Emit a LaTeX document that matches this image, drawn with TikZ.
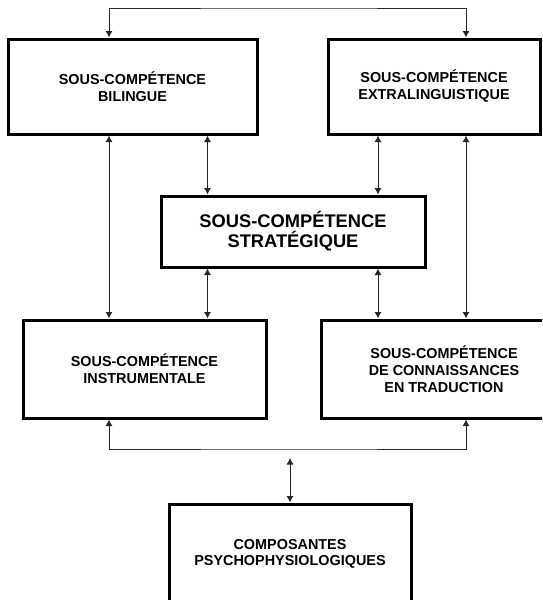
\documentclass[tikz,border=0pt]{standalone}
\usepackage{fontspec}
\setmainfont{Liberation Sans}
\usetikzlibrary{arrows.meta}
\tikzset{>={Latex[length=6.5pt,width=7pt]}}
\tikzset{
  box/.style={draw, line width=3pt, align=center, inner sep=0pt,
    font=\bfseries\fontsize{14.4}{17}\selectfont},
  link/.style={<->, line width=0.9pt, black!85}
}

\begin{document}
\begin{tikzpicture}[x=1pt,y=-1pt]
  \clip (0,0) rectangle (542,600);

  % Boxes
  \node[box, minimum width=249pt, minimum height=95pt] (bil) at (132.5,86.5) {SOUS-COMPÉTENCE\\BILINGUE};
  \node[box, minimum width=212pt, minimum height=95pt] (ext) at (434,86.5) {SOUS-COMPÉTENCE\\EXTRALINGUISTIQUE};
  \node[box, minimum width=264pt, minimum height=71pt, font=\bfseries\fontsize{18.3}{20}\selectfont] (str) at (293,231.5) {SOUS-COMPÉTENCE\\STRATÉGIQUE};
  \node[box, minimum width=243pt, minimum height=98pt] (ins) at (144.5,369) {SOUS-COMPÉTENCE\\INSTRUMENTALE};
  \node[box, minimum width=246pt, minimum height=98pt] (tra) at (444,369) {SOUS-COMPÉTENCE\\DE CONNAISSANCES\\EN TRADUCTION};
  \node[box, minimum width=242pt, minimum height=100pt, font=\bfseries\fontsize{14.4}{16}\selectfont] (com) at (290,554) {COMPOSANTES\\PSYCHOPHYSIOLOGIQUES};

  % Columns of the connectors
  \coordinate (lcol) at (109,0);
  \coordinate (rcol) at (466,0);
  \coordinate (mcolL) at (207.5,0);
  \coordinate (mcolR) at (378,0);
  \coordinate (top) at (290,8);
  \coordinate (bot) at (290,449);
  \coordinate (midtop) at (290,458);

  % Connectors
  \draw[link] (bil.north -| lcol) |- (top) -| (ext.north -| rcol);
  \draw[link] (bil.south -| lcol) -- (ins.north -| lcol);
  \draw[link] (bil.south -| mcolL) -- (str.north -| mcolL);
  \draw[link] (ext.south -| mcolR) -- (str.north -| mcolR);
  \draw[link] (ext.south -| rcol) -- (tra.north -| rcol);
  \draw[link] (str.south -| mcolL) -- (ins.north -| mcolL);
  \draw[link] (str.south -| mcolR) -- (tra.north -| mcolR);
  \draw[link] (ins.south -| lcol) |- (bot) -| (tra.south -| rcol);
  \draw[link] (midtop) -- (com.north);
\end{tikzpicture}
\end{document}
